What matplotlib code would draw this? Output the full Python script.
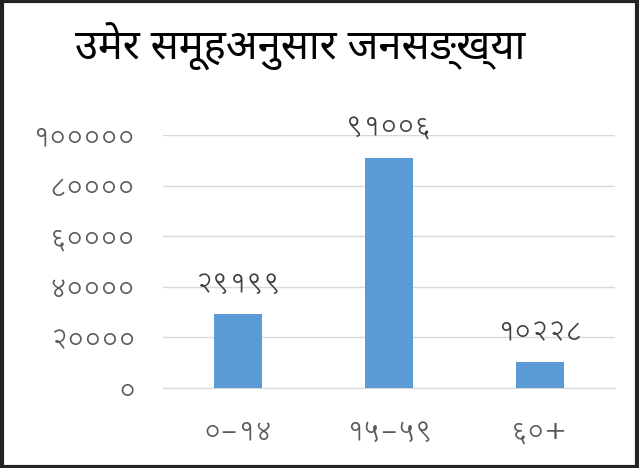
import matplotlib
matplotlib.use("Agg")
import matplotlib.pyplot as plt
from matplotlib import font_manager
from matplotlib.patches import Rectangle

title = "उमेर समूहअनुसार जनसङ्ख्या"
categories = ["०-१४", "१५-५९", "६०+"]
values = [29199, 91006, 10228]
value_labels = ["२९१९९", "९१००६", "१०२२८"]
ytick_values = [0, 20000, 40000, 60000, 80000, 100000]
ytick_labels = ["०", "२००००", "४००००", "६००००", "८००००", "१०००००"]

names = set(f.name for f in font_manager.fontManager.ttflist)
def fam(*prefs):
    return [p for p in prefs if p in names] + ["DejaVu Sans"]
title_fam = fam("Noto Sans Devanagari", "Lohit Devanagari")
num_fam = fam("Lohit Devanagari", "Noto Sans Devanagari")

fig = plt.figure(figsize=(6.39, 4.68), dpi=100)
ax = fig.add_axes([163/639, 1 - 388/468, (615-163)/639, (388-135)/468])

x = list(range(len(categories)))
ax.bar(x, values, width=0.32, color="#5b9bd5", zorder=3)
ax.set_xlim(-0.5, 2.5)
ax.set_ylim(0, 100000)
ax.set_yticks(ytick_values)
ax.set_yticklabels(ytick_labels)
ax.set_xticks(x)
ax.set_xticklabels(categories)
for lab in ax.get_yticklabels() + ax.get_xticklabels():
    lab.set_family(num_fam)
    lab.set_fontsize(19)
    lab.set_color("#595959")
ax.tick_params(axis='y', length=0, pad=20)
ax.tick_params(axis='x', length=0, pad=22)
ax.grid(axis='y', color="#d9d9d9", linewidth=1, zorder=0)
for s in ["top", "right", "left"]:
    ax.spines[s].set_visible(False)
ax.spines["bottom"].set_color("#d9d9d9")

for xi, v, lab in zip(x, values, value_labels):
    ax.annotate(lab, (xi, v), xytext=(0, 11), textcoords="offset points",
                ha="center", va="bottom", fontsize=19, color="#404040", family=num_fam)

fig.text(75/639, 1 - 47/468, title, fontsize=30, color="black", va="center", ha="left",
         family=title_fam, fontweight="semibold")
fig.patches.append(Rectangle((0.003, 0.003), 0.994, 0.994, transform=fig.transFigure,
                             fill=False, edgecolor="#222222", linewidth=3))
fig.savefig("out.png", dpi=100)
